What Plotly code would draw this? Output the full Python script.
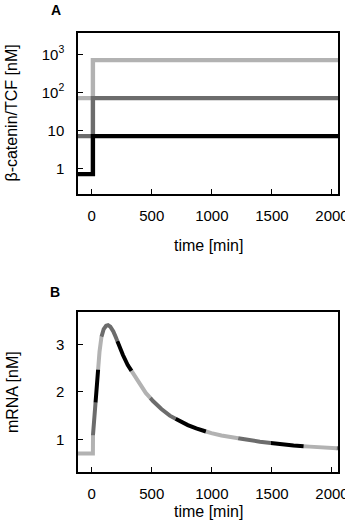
import plotly.graph_objects as go

# ---------------- data ----------------
# Panel A: beta-catenin/TCF step input (three scenarios)
step_time = [-114, 10, 2050]
bc_black = [0.7, 7, 7]
bc_dark = [7, 70, 70]
bc_light = [70, 700, 700]

# Panel B: mRNA response (identical for the three scenarios)
mrna_time = [-114, 10, 11, 20, 31, 42, 53, 65, 81, 100, 120, 136, 155, 180, 200,
             225, 260, 300, 344, 400, 450, 510, 580, 650, 733, 800, 870, 940,
             996, 1080, 1180, 1273, 1400, 1545, 1680, 1814, 1950, 2050]
mrna_vals = [0.70, 0.70, 1.10, 1.40, 1.83, 2.20, 2.49, 2.85, 3.16, 3.33, 3.40, 3.41,
             3.38, 3.28, 3.16, 2.99, 2.78, 2.57, 2.39, 2.15, 1.98, 1.81, 1.64, 1.50,
             1.38, 1.30, 1.23, 1.17, 1.13, 1.08, 1.03, 1.00, 0.95, 0.90, 0.87, 0.846,
             0.825, 0.81]

x_ticks = [0, 500, 1000, 1500, 2000]
a_tickvals = [1, 10, 100, 1000]
a_ticktext = ["1", "10", "10<sup>2</sup>", "10<sup>3</sup>"]
b_tickvals = [1, 2, 3]

LIGHT = "#b2b2b2"
DARK = "#6c6c6c"
BLACK = "#000000"
FONT = "Liberation Sans, Arial, sans-serif"

fig = go.Figure()

# Panel A
for vals, col in [(bc_light, LIGHT), (bc_dark, DARK), (bc_black, BLACK)]:
    fig.add_trace(go.Scatter(x=step_time, y=vals, mode="lines",
                             line=dict(color=col, width=4.4, shape="hv"),
                             xaxis="x", yaxis="y", showlegend=False))

# Panel B: same curve drawn three times, dashed with offset phases
dashes = [(LIGHT, "33px,66px"), (DARK, "0px,33px,33px,33px"), (BLACK, "0px,66px,33px,0px")]
for col, dsh in dashes:
    fig.add_trace(go.Scatter(x=mrna_time, y=mrna_vals, mode="lines",
                             line=dict(color=col, width=4.0, dash=dsh),
                             xaxis="x2", yaxis="y2", showlegend=False))

axis_common = dict(showline=True, linecolor="black", linewidth=1.5, mirror=True,
                   ticks="inside", ticklen=5, tickwidth=1.3, tickcolor="black",
                   showgrid=False, zeroline=False, automargin=False,
                   ticklabeloverflow="allow",
                   tickfont=dict(family=FONT, size=15, color="black"))

fig.update_layout(
    template="none",
    width=345, height=530,
    margin=dict(l=78, r=7, t=33, b=58, autoexpand=False),
    plot_bgcolor="white", paper_bgcolor="white",
    font=dict(family=FONT, color="black"),
    xaxis=dict(domain=[0, 1], range=[-114, 2050], tickvals=x_ticks,
               anchor="y", ticklabelstandoff=7, **axis_common),
    yaxis=dict(domain=[0.633, 1], type="log", range=[-0.68, 3.56],
               tickvals=a_tickvals, ticktext=a_ticktext, anchor="x",
               ticklabelstandoff=9, **axis_common),
    xaxis2=dict(domain=[0, 1], range=[-114, 2050], tickvals=x_ticks,
                anchor="y2", ticklabelstandoff=7, **axis_common),
    yaxis2=dict(domain=[0, 0.3645], range=[0.31, 3.69], tickvals=b_tickvals,
                anchor="x2", ticklabelstandoff=9, **axis_common),
)

ann_font = dict(family=FONT, size=16, color="black")
annotations = [
    dict(text="time [min]", x=0.5, y=0.517, xref="paper", yref="paper",
         showarrow=False, font=ann_font, xanchor="center", yanchor="middle"),
    dict(text="time [min]", x=0.5, y=-0.089, xref="paper", yref="paper",
         showarrow=False, font=ann_font, xanchor="center", yanchor="middle"),
    dict(text="β-catenin/TCF [nM]", x=-66 / 260, y=0.8165, xref="paper", yref="paper",
         showarrow=False, font=ann_font, textangle=-90, xanchor="center", yanchor="middle"),
    dict(text="mRNA [nM]", x=-66 / 260, y=0.182, xref="paper", yref="paper",
         showarrow=False, font=ann_font, textangle=-90, xanchor="center", yanchor="middle"),
    dict(text="<b>A</b>", x=-22 / 260, y=(472 - 9.5) / 439, xref="paper", yref="paper",
         showarrow=False, font=dict(family=FONT, size=14, color="black"),
         xanchor="center", yanchor="middle"),
    dict(text="<b>B</b>", x=-23 / 260, y=(472 - 292) / 439, xref="paper", yref="paper",
         showarrow=False, font=dict(family=FONT, size=14, color="black"),
         xanchor="center", yanchor="middle"),
]
fig.update_layout(annotations=annotations)

fig.write_html("out.html", config={"displayModeBar": False},
               post_script="document.body.style.margin='0';document.body.style.overflow='hidden';")
